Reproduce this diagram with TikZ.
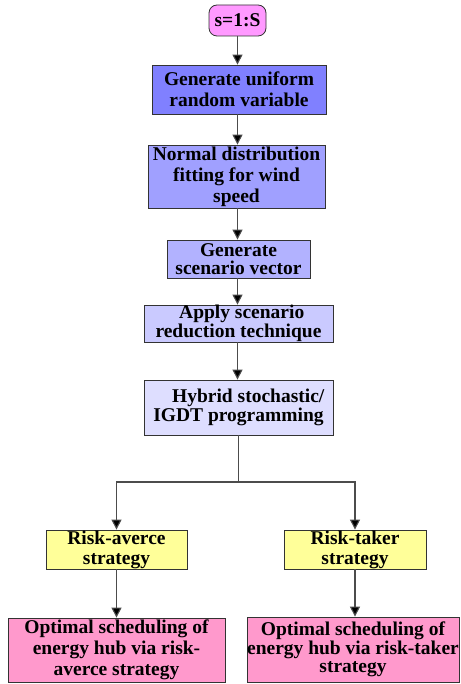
\documentclass[tikz,border=0pt]{standalone}
\usepackage{fontspec}
\setmainfont{Liberation Serif}
\usetikzlibrary{arrows.meta}
\definecolor{cTop}{RGB}{255,153,255}
\definecolor{cA}{RGB}{128,128,255}
\definecolor{cB}{RGB}{160,160,255}
\definecolor{cC}{RGB}{178,178,255}
\definecolor{cD}{RGB}{202,202,255}
\definecolor{cE}{RGB}{222,222,255}
\definecolor{cY}{RGB}{255,255,153}
\definecolor{cP}{RGB}{255,153,204}
\tikzset{
  box/.style={draw=black!80, line width=0.8pt, rectangle, inner sep=0pt, align=center,
    font=\fontsize{19.5}{21}\selectfont\bfseries},
  arr/.style={draw=black!70, line width=1.1pt, -{Triangle[width=10pt,length=10pt,fill=black]}},
  ln/.style={draw=black!70, line width=1.1pt}
}
\begin{document}
\begin{tikzpicture}[x=1pt,y=-1pt]
\useasboundingbox (0,0) rectangle (460,684);
\node[box, fill=cTop, rounded corners=8pt, minimum width=57pt, minimum height=31pt] (s) at (237.5,20.5) {s=1:S};
\node[box, fill=cA, minimum width=174pt, minimum height=49pt] (b1) at (239,89.5) {Generate uniform\\random variable};
\node[box, fill=cB, minimum width=177pt, minimum height=63pt] (b2) at (236.5,176.5) {Normal distribution\\fitting for wind\\speed};
\node[box, fill=cC, minimum width=143pt, minimum height=38pt, font=\fontsize{19.5}{17.5}\selectfont\bfseries] (b3) at (238.5,259) {Generate\\scenario vector};
\node[box, fill=cD, minimum width=189pt, minimum height=37pt, font=\fontsize{19.5}{18.5}\selectfont\bfseries] (b4) at (238.5,323.5) {\,\,Apply scenario\\reduction technique};
\node[box, fill=cE, minimum width=189pt, minimum height=55pt, font=\fontsize{19.5}{19}\selectfont\bfseries] (b5) at (238.5,407.5) {\quad Hybrid stochastic/\\IGDT programming};
\node[box, fill=cY, minimum width=141pt, minimum height=39pt, font=\fontsize{19.5}{20}\selectfont\bfseries] (y1) at (116.5,549.5) {Risk-averce\\strategy};
\node[box, fill=cY, minimum width=142pt, minimum height=39pt, font=\fontsize{19.5}{20}\selectfont\bfseries] (y2) at (355,549.5) {Risk-taker\\strategy};
\node[box, fill=cP, minimum width=217pt, minimum height=64pt] (p1) at (116.5,650) {Optimal scheduling of\\energy hub via risk-\\averce strategy};
\node[box, fill=cP, minimum width=212pt, minimum height=65pt, font=\fontsize{19.5}{18.5}\selectfont\bfseries] (p2) at (353,649.5) {Optimal scheduling of\\energy hub via risk-taker\\strategy};
\coordinate (j) at (238.5,482);
\draw[arr] (s.south) -- (s.south |- b1.north);
\draw[arr] (b1.south -| s.south) -- (s.south |- b2.north);
\draw[arr] (b2.south -| s.south) -- (s.south |- b3.north);
\draw[arr] (b3.south -| s.south) -- (s.south |- b4.north);
\draw[arr] (b4.south -| s.south) -- (s.south |- b5.north);
\draw[ln] (b5.south -| j) -- (j);
\draw[arr] (j) -| (y1.north);
\draw[arr] (j) -| (y2.north);
\draw[arr] (y1.south) -- (y1.south |- p1.north);
\draw[arr] (y2.south) -- (y2.south |- p2.north);
\end{tikzpicture}
\end{document}
